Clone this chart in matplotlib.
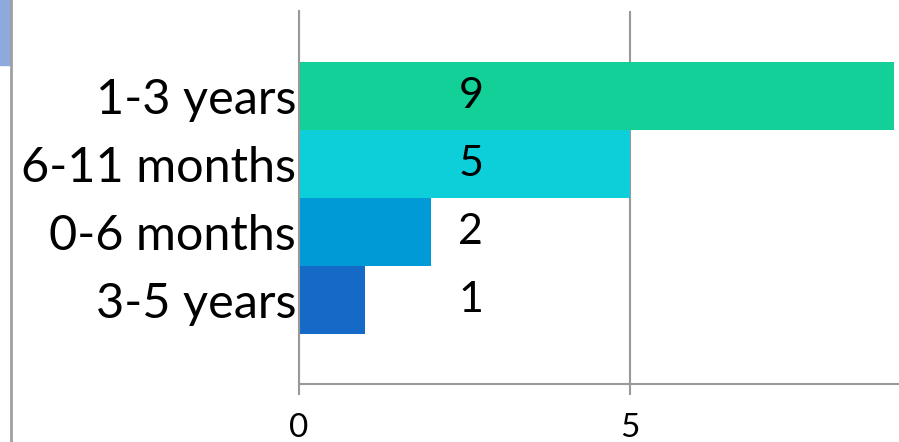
import matplotlib
matplotlib.use("Agg")
import matplotlib.pyplot as plt
from matplotlib.patches import Rectangle

# data (bottom to top)
categories = ["3-5 years", "0-6 months", "6-11 months", "1-3 years"]
counts = [1, 2, 5, 9]
bar_colors = ["#1569C7", "#009BD6", "#0DCFDA", "#13CF98"]

plt.rcParams['font.family'] = ['Lato', 'DejaVu Sans']

fig = plt.figure(figsize=(8.99, 4.42), dpi=100)
W, H = 899, 442
# axes extends past the right edge like the cropped original
ax = fig.add_axes([299 / W, (H - 384) / H, 661 / W, 373 / H])

ypos = list(range(len(categories)))
ax.barh(ypos, counts, height=1.0, color=bar_colors)

# value labels sit at a fixed x, not at bar ends
for y, v in zip(ypos, counts):
    ax.text(2.6, y, str(v), ha='center', va='center', fontsize=31, color='black')

ax.set_xlim(0, 10)
ax.set_ylim(-1.235, 4.25)
ax.set_yticks(ypos)
ax.set_yticklabels(categories, fontsize=35)
ax.set_xticks([0, 5])
ax.set_xticklabels(['0', '5'], fontsize=24)

ax.tick_params(axis='y', length=0, pad=2)
ax.tick_params(axis='x', length=8, width=1.5, color='#999999', pad=13)
ax.grid(axis='x', color='#999999', linewidth=1.5)
ax.set_axisbelow(True)
for s in ['top', 'right']:
    ax.spines[s].set_visible(False)
for s in ['left', 'bottom']:
    ax.spines[s].set_color('#999999')
    ax.spines[s].set_linewidth(1.5)

# slide decoration on the left edge
fig.add_artist(plt.Line2D([10.5 / W, 10.5 / W], [0, 1], color='#A0A0A0', linewidth=2))
fig.add_artist(Rectangle((0, 1 - 65 / H), 10 / W, 65 / H, color='#8EA9DB', transform=fig.transFigure))

fig.savefig("out.png", dpi=100)
